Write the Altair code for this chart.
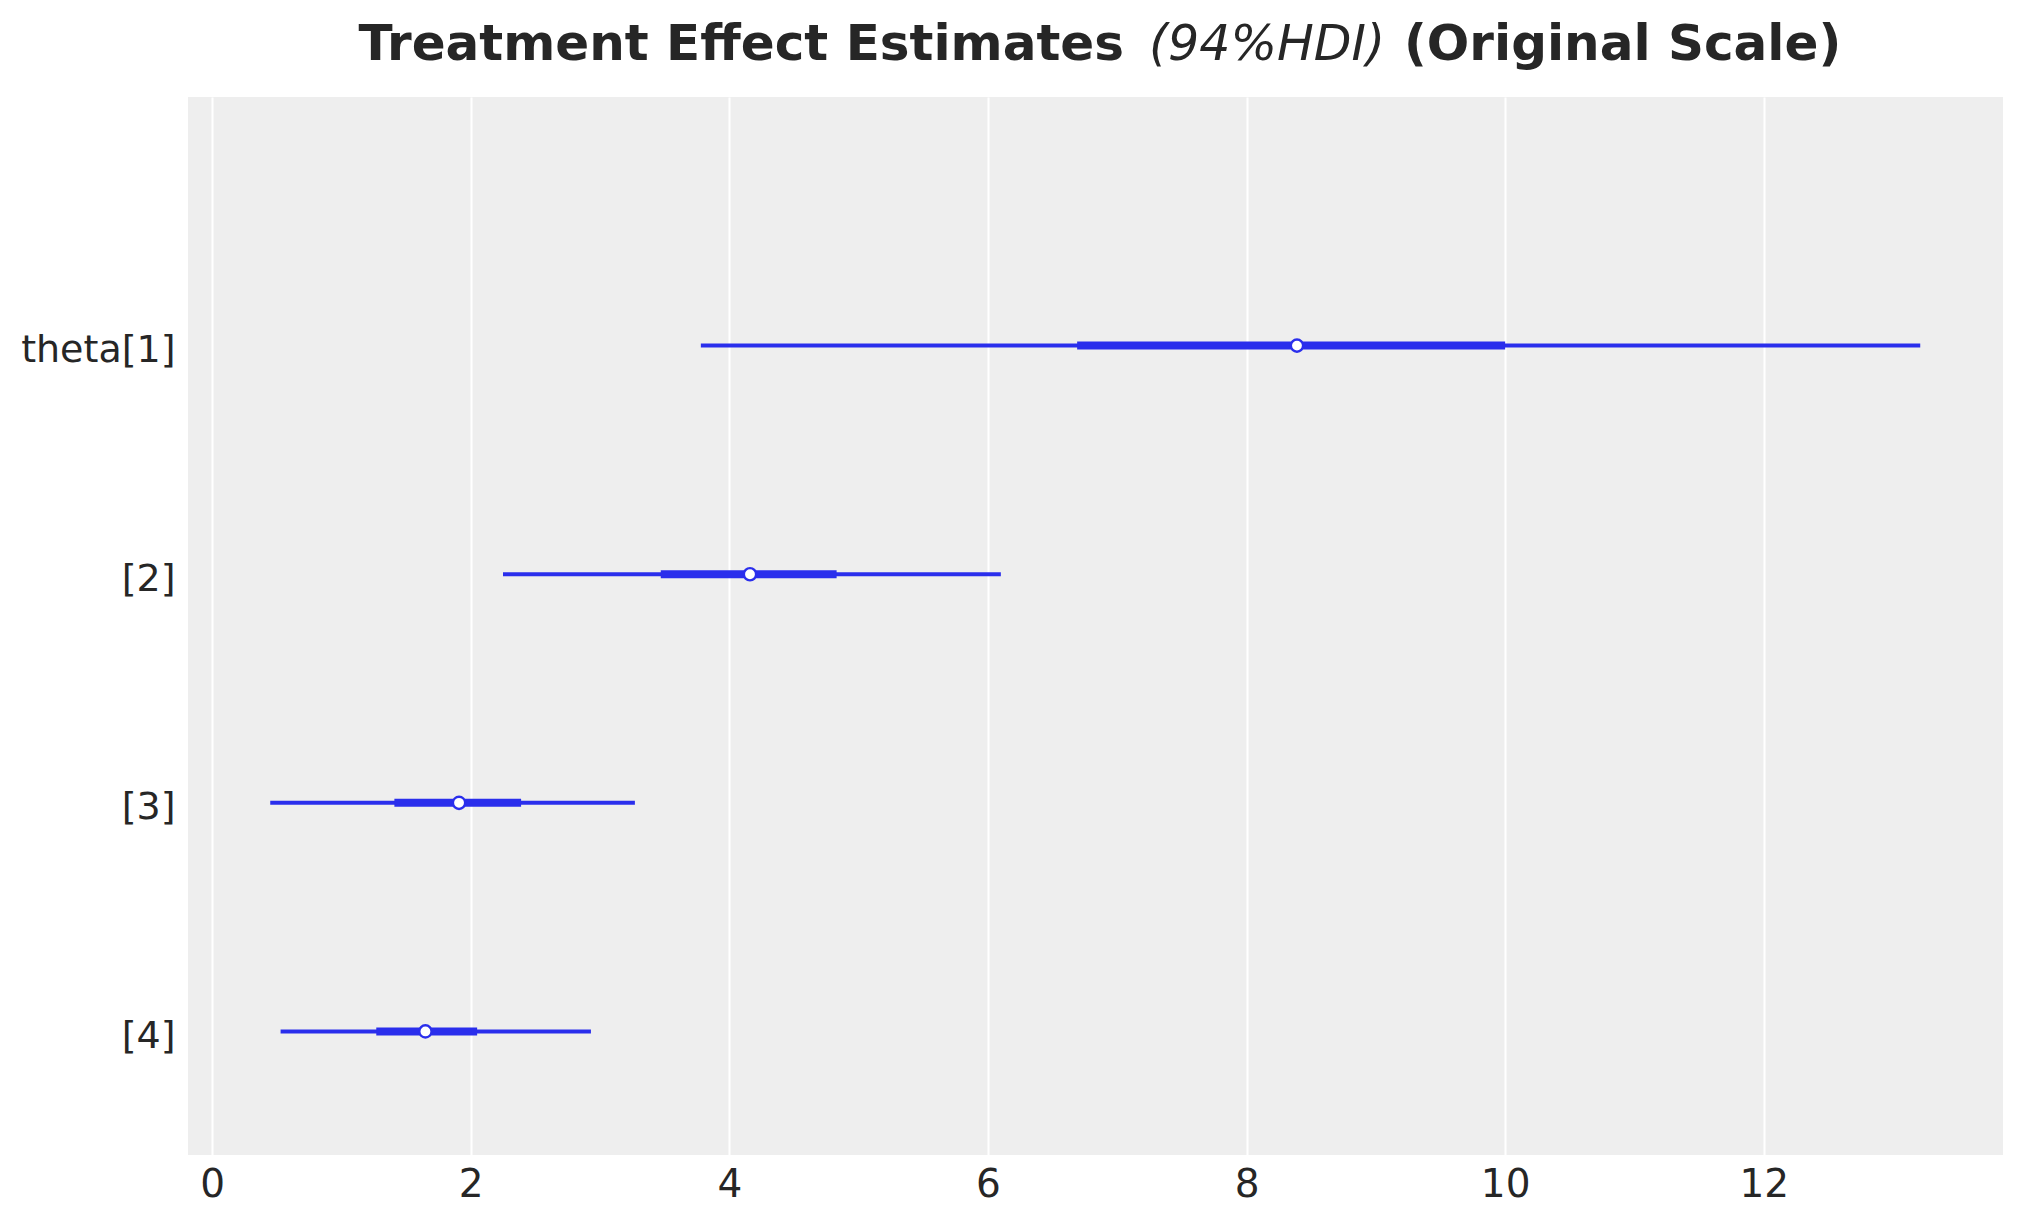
import altair as alt
import pandas as pd

labels = ["theta[1]", "[2]", "[3]", "[4]"]
hdi_low = [3.78, 2.25, 0.45, 0.53]
hdi_high = [13.21, 6.10, 3.27, 2.93]
iqr_low = [6.69, 3.47, 1.41, 1.27]
iqr_high = [10.00, 4.83, 2.39, 2.05]
median = [8.39, 4.16, 1.91, 1.65]
x_ticks = [0, 2, 4, 6, 8, 10, 12]
title_parts = ["Treatment Effect Estimates", "(94%HDI)", "(Original Scale)"]

BLUE = "#2a2eec"
TXT = "#262626"
FONT = "DejaVu Sans"

df = pd.DataFrame({
    "label": labels,
    "hdi_low": hdi_low,
    "hdi_high": hdi_high,
    "iqr_low": iqr_low,
    "iqr_high": iqr_high,
    "median": median,
})

xscale = alt.Scale(domain=[-0.186, 13.85], nice=False, zero=False)
yscale = alt.Scale(type="point", padding=0.814, align=0.668)

xaxis = alt.Axis(title=None, values=x_ticks, format="d", grid=True, gridColor="white", gridWidth=2,
                 domain=False, ticks=False, labelPadding=10, labelFontSize=39,
                 labelFont=FONT, labelColor=TXT)
yaxis = alt.Axis(title=None, grid=False, domain=False, ticks=False, labelPadding=13,
                 labelFontSize=38, labelFont=FONT, labelColor=TXT, labelOffset=5)

base = alt.Chart(df)

thin = base.mark_rule(color=BLUE, strokeWidth=4).encode(
    x=alt.X("hdi_low:Q", scale=xscale, axis=xaxis),
    x2="hdi_high:Q",
    y=alt.Y("label:N", sort=labels, scale=yscale, axis=yaxis),
)
thick = base.mark_rule(color=BLUE, strokeWidth=8).encode(
    x=alt.X("iqr_low:Q", scale=xscale),
    x2="iqr_high:Q",
    y=alt.Y("label:N", sort=labels, scale=yscale),
)
pts = base.mark_point(shape="circle", filled=True, fill="white", stroke=BLUE,
                      strokeWidth=2.4, size=150, opacity=1).encode(
    x=alt.X("median:Q", scale=xscale),
    y=alt.Y("label:N", sort=labels, scale=yscale),
)

one = alt.Data(values=[{}])
t1 = alt.Chart(one).mark_text(text=title_parts[0], font=FONT, fontSize=50, fontWeight="bold",
                              align="right", baseline="alphabetic", color=TXT).encode(
    x=alt.value(936), y=alt.value(-37))
t2 = alt.Chart(one).mark_text(text=title_parts[1], font=FONT, fontSize=49, fontStyle="italic",
                              align="left", baseline="alphabetic", color=TXT).encode(
    x=alt.value(961), y=alt.value(-37))
t3 = alt.Chart(one).mark_text(text=title_parts[2], font=FONT, fontSize=50, fontWeight="bold",
                              align="left", baseline="alphabetic", color=TXT).encode(
    x=alt.value(1216), y=alt.value(-37))

chart = alt.layer(thin, thick, pts, t1, t2, t3).properties(
    width=1815, height=1058,
    autosize=alt.AutoSizeParams(type="none"),
    padding={"left": 180, "top": 89, "right": 10, "bottom": 50},
    background="white",
).configure_view(fill="#EEEEEE", strokeWidth=0)

chart.save("out.html", embed_options={"renderer": "svg", "actions": False})
